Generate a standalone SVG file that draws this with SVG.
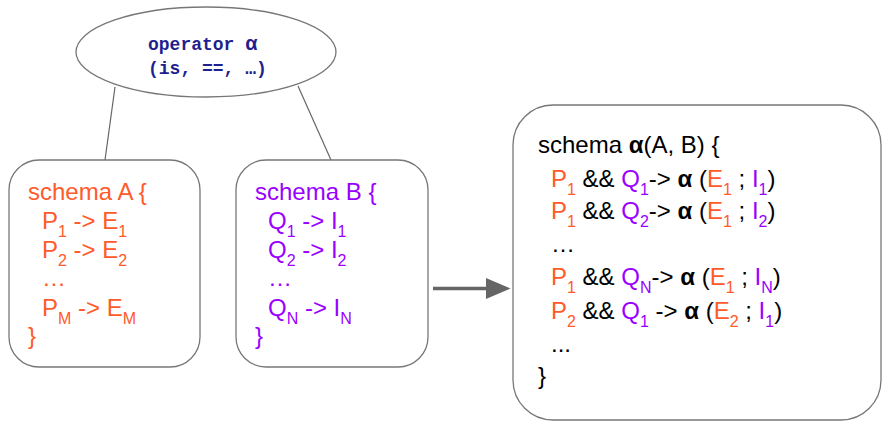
<svg xmlns="http://www.w3.org/2000/svg" width="882" height="421" viewBox="0 0 882 421">
<style>
.box{fill:#fff;stroke:#777;stroke-width:1.3}
.t{font-family:"Liberation Sans",Arial,sans-serif;font-size:24px}
.o{fill:#ff5a2a}
.p{fill:#9a00ff}
.k{fill:#000}
.s{font-size:16px}
.b{font-weight:bold}
.mono{font-family:"Liberation Mono","Courier New",monospace;font-size:18px;font-weight:bold;fill:#1f1f8f}
.conn{stroke:#666;stroke-width:1.2;fill:none}
</style>
<defs>
<marker id="ah" markerWidth="7" markerHeight="6" refX="0" refY="3" orient="auto" markerUnits="strokeWidth">
<path d="M0,0 L7,3 L0,6 Z" fill="#666"/>
</marker>
</defs>
<g id="connectors">
<line class="conn" x1="115" y1="87" x2="105" y2="160"/>
<line class="conn" x1="298" y1="86" x2="331" y2="160"/>
<line x1="433" y1="288.5" x2="486" y2="288.5" stroke="#666" stroke-width="3.5" marker-end="url(#ah)"/>
</g>
<g id="operator">
<ellipse cx="206" cy="52" rx="130" ry="45" class="box"/>
<text class="mono" x="148" y="50">operator <tspan font-family="Liberation Sans,Arial,sans-serif" font-size="20">α</tspan></text>
<text class="mono" x="148" y="74">(is, ==, …)</text>
</g>
<g id="schemaA">
<rect x="9" y="160" width="191" height="207" rx="30" class="box"/>
<text class="t o" x="28" y="200">schema A {</text>
<text class="t o" x="42" y="229">P<tspan class="s" dy="8">1</tspan><tspan dy="-8"> -&gt; E</tspan><tspan class="s" dy="8">1</tspan></text>
<text class="t o" x="42" y="258">P<tspan class="s" dy="8">2</tspan><tspan dy="-8"> -&gt; E</tspan><tspan class="s" dy="8">2</tspan></text>
<text class="t o" x="42" y="286">…</text>
<text class="t o" x="42" y="316">P<tspan class="s" dy="8">M</tspan><tspan dy="-8"> -&gt; E</tspan><tspan class="s" dy="8">M</tspan></text>
<text class="t o" x="28" y="344">}</text>
</g>
<g id="schemaB">
<rect x="236" y="160" width="192" height="207" rx="30" class="box"/>
<text class="t p" x="255" y="200">schema B {</text>
<text class="t p" x="268" y="229">Q<tspan class="s" dy="8">1</tspan><tspan dy="-8"> -&gt; I</tspan><tspan class="s" dy="8">1</tspan></text>
<text class="t p" x="268" y="258">Q<tspan class="s" dy="8">2</tspan><tspan dy="-8"> -&gt; I</tspan><tspan class="s" dy="8">2</tspan></text>
<text class="t p" x="268" y="286">…</text>
<text class="t p" x="268" y="316">Q<tspan class="s" dy="8">N</tspan><tspan dy="-8"> -&gt; I</tspan><tspan class="s" dy="8">N</tspan></text>
<text class="t p" x="255" y="344">}</text>
</g>
<g id="schemaAB">
<rect x="513" y="105" width="368" height="315" rx="40" class="box"/>
<text class="t k" x="538" y="153">schema <tspan class="b">α</tspan>(A, B) {</text>
<text class="t k" x="551" y="187"><tspan class="o">P</tspan><tspan class="o s" dy="8">1</tspan><tspan dy="-8"> &amp;&amp; </tspan><tspan class="p">Q</tspan><tspan class="p s" dy="8">1</tspan><tspan dy="-8">-&gt; </tspan><tspan class="b">α</tspan> (<tspan class="o">E</tspan><tspan class="o s" dy="8">1</tspan><tspan dy="-8"> ; </tspan><tspan class="p">I</tspan><tspan class="p s" dy="8">1</tspan><tspan dy="-8">)</tspan></text>
<text class="t k" x="551" y="219"><tspan class="o">P</tspan><tspan class="o s" dy="8">1</tspan><tspan dy="-8"> &amp;&amp; </tspan><tspan class="p">Q</tspan><tspan class="p s" dy="8">2</tspan><tspan dy="-8">-&gt; </tspan><tspan class="b">α</tspan> (<tspan class="o">E</tspan><tspan class="o s" dy="8">1</tspan><tspan dy="-8"> ; </tspan><tspan class="p">I</tspan><tspan class="p s" dy="8">2</tspan><tspan dy="-8">)</tspan></text>
<text class="t k" x="551" y="252">…</text>
<text class="t k" x="551" y="285"><tspan class="o">P</tspan><tspan class="o s" dy="8">1</tspan><tspan dy="-8"> &amp;&amp; </tspan><tspan class="p">Q</tspan><tspan class="p s" dy="8">N</tspan><tspan dy="-8">-&gt; </tspan><tspan class="b">α</tspan> (<tspan class="o">E</tspan><tspan class="o s" dy="8">1</tspan><tspan dy="-8"> ; </tspan><tspan class="p">I</tspan><tspan class="p s" dy="8">N</tspan><tspan dy="-8">)</tspan></text>
<text class="t k" x="551" y="319"><tspan class="o">P</tspan><tspan class="o s" dy="8">2</tspan><tspan dy="-8">  &amp;&amp; </tspan><tspan class="p">Q</tspan><tspan class="p s" dy="8">1</tspan><tspan dy="-8"> -&gt; </tspan><tspan class="b">α</tspan> (<tspan class="o">E</tspan><tspan class="o s" dy="8">2</tspan><tspan dy="-8"> ; </tspan><tspan class="p">I</tspan><tspan class="p s" dy="8">1</tspan><tspan dy="-8">)</tspan></text>
<text class="t k" x="551" y="352">...</text>
<text class="t k" x="538" y="384">}</text>
</g>
</svg>
